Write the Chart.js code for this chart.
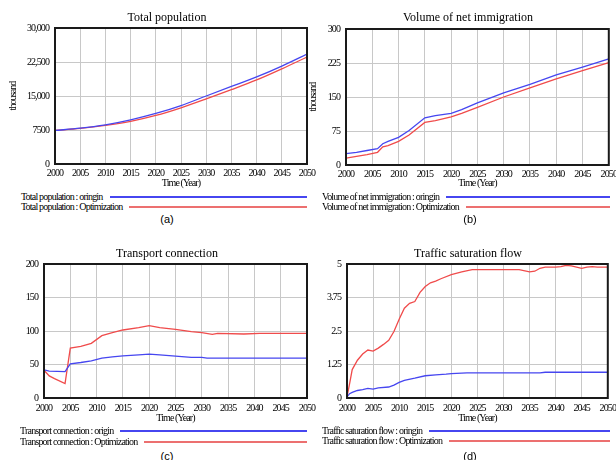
<!DOCTYPE html>
<html>
<head>
<meta charset="utf-8">
<script src="https://cdn.jsdelivr.net/npm/chart.js@4.4.1/dist/chart.umd.min.js"></script>
<style>
body { margin:0; width:616px; height:460px; overflow:hidden; position:relative; background:#fff; font-family:'Liberation Serif', serif; color:#000; }
canvas { position:absolute; }
.title { position:absolute; font-size:12px; white-space:nowrap; transform:translate(-50%,-50%); }
.legend { position:absolute; display:flex; align-items:center; font-size:10px; letter-spacing:-0.8px; white-space:nowrap; height:10px; line-height:10px; }
.legend .line { flex:1; margin-left:7px; height:1.5px; }
.caption { position:absolute; font-family:'Liberation Sans', sans-serif; font-size:11px; transform:translate(-50%,-50%); }
</style>
</head>
<body>
<canvas id="chartA" width="320" height="190" style="left:0;top:0"></canvas>
<canvas id="chartB" width="320" height="190" style="left:300px;top:0"></canvas>
<canvas id="chartC" width="320" height="196" style="left:0;top:230px"></canvas>
<canvas id="chartD" width="320" height="196" style="left:300px;top:230px"></canvas>

<script>
// asse x comune
const yearTicks = [2000, 2005, 2010, 2015, 2020, 2025, 2030, 2035, 2040, 2045, 2050];
const yearLabels = ['2000', '2005', '2010', '2015', '2020', '2025', '2030', '2035', '2040', '2045', '2050'];

// (a) Total population
const popYears = [2000, 2005, 2010, 2015, 2020, 2025, 2030, 2035, 2040, 2045, 2050];
const popOrigin = [7400, 7900, 8650, 9750, 11150, 12900, 15000, 17100, 19200, 21600, 24250];
const popOptim = [7400, 7850, 8500, 9400, 10700, 12400, 14350, 16400, 18550, 21000, 23600];
const popTicks = [0, 7500, 15000, 22500, 30000];
const popTickLabels = ['0', '7500', '15,000', '22,500', '30,000'];

// (b) Volume of net immigration
const immYears = [2000, 2002, 2004, 2006, 2007, 2008, 2010, 2012, 2015, 2017, 2020, 2022, 2025, 2030, 2035, 2040, 2045, 2050];
const immOrigin = [25, 28, 32, 36, 47, 52, 61, 76, 104, 109, 114, 122, 137, 159, 178, 199, 216, 234];
const immOptim = [15, 19, 23, 28, 40, 43, 52, 66, 94, 98, 106, 114, 127, 150, 170, 190, 208, 226];
const immTicks = [0, 75, 150, 225, 300];
const immTickLabels = ['0', '75', '150', '225', '300'];

// (c) Transport connection
const trOrgYears = [2000, 2001, 2004, 2005, 2007, 2009, 2011, 2013, 2015, 2018, 2020, 2022, 2025, 2028, 2030, 2031, 2035, 2040, 2045, 2050];
const trOrigin = [42, 40, 39.5, 51, 53, 55.5, 59.5, 61.5, 63, 64.5, 65.5, 64.5, 62.5, 60.5, 60.5, 59.5, 59.5, 59.5, 59.5, 59.5];
const trOptYears = [2000, 2001, 2002, 2004, 2005, 2007, 2009, 2011, 2013, 2015, 2018, 2020, 2022, 2025, 2028, 2030, 2032, 2033, 2038, 2041, 2050];
const trOptim = [41.5, 33, 29, 21.5, 74.5, 77, 81.5, 93, 97.5, 101.5, 105, 108, 105, 102.5, 99, 97.5, 95, 96.5, 95.5, 96.5, 96.5];
const trTicks = [0, 50, 100, 150, 200];
const trTickLabels = ['0', '50', '100', '150', '200'];

// (d) Traffic saturation flow
const tfOrgYears = [2000, 2000.5, 2001, 2002, 2003, 2004, 2005, 2006, 2008, 2009, 2010, 2011, 2013, 2015, 2017, 2019, 2020, 2023, 2037, 2038, 2050];
const tfOrigin = [0.04, 0.16, 0.21, 0.28, 0.31, 0.36, 0.33, 0.38, 0.41, 0.48, 0.58, 0.66, 0.74, 0.83, 0.86, 0.89, 0.91, 0.94, 0.94, 0.96, 0.96];
const tfOptYears = [2000, 2000.5, 2001, 2002, 2003, 2004, 2005, 2006, 2007, 2008, 2009, 2010, 2011, 2012, 2013, 2014, 2015, 2016, 2017, 2018, 2020, 2022, 2024, 2033, 2035, 2036, 2037, 2038, 2040, 2041, 2042, 2043, 2045, 2046, 2047, 2048, 2050];
const tfOptim = [0.04, 0.54, 1.06, 1.41, 1.64, 1.79, 1.75, 1.86, 2.0, 2.15, 2.48, 2.94, 3.35, 3.53, 3.6, 3.94, 4.16, 4.3, 4.36, 4.45, 4.6, 4.71, 4.79, 4.79, 4.71, 4.73, 4.84, 4.88, 4.88, 4.9, 4.95, 4.93, 4.84, 4.88, 4.9, 4.88, 4.88];
const tfTicks = [0, 1.25, 2.5, 3.75, 5];
const tfTickLabels = ['0', '1.25', '2.5', '3.75', '5'];

const blue = '#4646f0';
const red = '#f04b4b';
const serif = "'Liberation Serif', serif";
const tickFont = { family: serif, size: 10 };
const axisFont = { family: serif, size: 10 };

// cornice nera attorno all'area del grafico
const frame = {
    id: 'frame',
    afterDraw(chart) {
        const a = chart.chartArea;
        const ctx = chart.ctx;
        ctx.save();
        ctx.strokeStyle = '#1a1a1a';
        ctx.lineWidth = 2;
        ctx.strokeRect(a.left, a.top, a.right - a.left, a.bottom - a.top);
        ctx.restore();
    }
};

// testo degli assi un po' stretto come nell'originale
const tight = {
    id: 'tight',
    beforeLayout(chart) { chart.ctx.letterSpacing = '-0.9px'; },
    beforeDraw(chart) { chart.ctx.letterSpacing = '-0.9px'; }
};

function points(xs, ys) {
    return xs.map((x, i) => ({ x: x, y: ys[i] }));
}

function makePanel(id, p) {
    const yScale = {
        min: p.yTicks[0],
        max: p.yTicks[p.yTicks.length - 1],
        afterBuildTicks: s => { s.ticks = p.yTicks.map(v => ({ value: v })); },
        afterFit: s => { s.width = p.yWidth; },
        ticks: { padding: 6, font: tickFont, color: '#000', callback: (v, i) => p.yLabels[i] },
        grid: { color: '#c8c8c8', drawTicks: false },
        border: { display: false }
    };
    if (p.yTitle) {
        yScale.title = { display: true, text: p.yTitle, font: axisFont, color: '#000', padding: { top: 7, bottom: 0 } };
    }
    return new Chart(document.getElementById(id), {
        type: 'line',
        data: {
            datasets: [
                { label: p.names[0], data: p.origin, borderColor: blue },
                { label: p.names[1], data: p.optim, borderColor: red }
            ]
        },
        options: {
            responsive: false,
            animation: false,
            layout: { padding: { left: 0, right: p.padRight, top: p.padTop, bottom: 0 } },
            plugins: { legend: { display: false }, tooltip: { enabled: false } },
            elements: {
                point: { radius: 0 },
                line: { borderWidth: 1.3, tension: p.smooth ? 0.4 : 0, cubicInterpolationMode: p.smooth ? 'monotone' : 'default' }
            },
            scales: {
                x: {
                    type: 'linear',
                    min: 2000,
                    max: 2050,
                    afterBuildTicks: s => { s.ticks = yearTicks.map(v => ({ value: v })); },
                    afterFit: s => { s.height = p.xHeight; },
                    ticks: { padding: p.xTickPad, font: tickFont, color: '#000', maxRotation: 0, autoSkip: false, callback: (v, i) => yearLabels[i] },
                    grid: { color: '#c8c8c8', drawTicks: false },
                    border: { display: false },
                    title: { display: true, text: 'Time (Year)', font: axisFont, color: '#000', padding: { top: 0, bottom: p.xTitlePad } }
                },
                y: yScale
            }
        },
        plugins: [frame, tight]
    });
}

const panels = [
    {
        id: 'chartA', title: 'Total population', cx: 167, cy: 17, caption: '(a)', capY: 219,
        names: ['Total population : oringin', 'Total population : Optimization'],
        origin: points(popYears, popOrigin), optim: points(popYears, popOptim), smooth: true,
        yTicks: popTicks, yLabels: popTickLabels, yTitle: 'thousand',
        yWidth: 55, padRight: 13, padTop: 28, xHeight: 26, xTickPad: 3, xTitlePad: 1,
        legLeft: 21, legRight: 307, legRows: [197, 207]
    },
    {
        id: 'chartB', title: 'Volume of net immigration', cx: 468, cy: 17, caption: '(b)', capY: 219,
        names: ['Volume of net immigration : oringin', 'Volume of net immigration : Optimization'],
        origin: points(immYears, immOrigin), optim: points(immYears, immOptim),
        yTicks: immTicks, yLabels: immTickLabels, yTitle: 'thousand',
        yWidth: 46, padRight: 10, padTop: 29, xHeight: 25, xTickPad: 3, xTitlePad: 1,
        legLeft: 322, legRight: 610, legRows: [197, 207]
    },
    {
        id: 'chartC', title: 'Transport connection', cx: 167, cy: 253, caption: '(c)', capY: 456,
        names: ['Transport connection : origin', 'Transport connection : Optimization'],
        origin: points(trOrgYears, trOrigin), optim: points(trOptYears, trOptim),
        yTicks: trTicks, yLabels: trTickLabels,
        yWidth: 44, padRight: 13, padTop: 34, xHeight: 28, xTickPad: 4, xTitlePad: 2,
        legLeft: 20, legRight: 307, legRows: [431, 442]
    },
    {
        id: 'chartD', title: 'Traffic saturation flow', cx: 468, cy: 253, caption: '(d)', capY: 456,
        names: ['Traffic saturation flow : oringin', 'Traffic saturation flow : Optimization'],
        origin: points(tfOrgYears, tfOrigin), optim: points(tfOptYears, tfOptim),
        yTicks: tfTicks, yLabels: tfTickLabels,
        yWidth: 47, padRight: 10, padTop: 34, xHeight: 28, xTickPad: 4, xTitlePad: 2,
        legLeft: 322, legRight: 610, legRows: [431, 441]
    }
];

function addDiv(cls, text, style) {
    const d = document.createElement('div');
    d.className = cls;
    if (text) d.textContent = text;
    Object.assign(d.style, style);
    document.body.appendChild(d);
    return d;
}

panels.forEach(p => {
    makePanel(p.id, p);
    addDiv('title', p.title, { left: p.cx + 'px', top: p.cy + 'px' });
    addDiv('caption', p.caption, { left: (p.cx + (p.cx > 300 ? 2 : 0)) + 'px', top: p.capY + 'px' });
    [blue, '#ec7070'].forEach((c, i) => {
        const row = addDiv('legend', '', {
            left: p.legLeft + 'px',
            top: (p.legRows[i] - 5) + 'px',
            width: (p.legRight - p.legLeft) + 'px'
        });
        const t = document.createElement('span');
        t.textContent = p.names[i];
        const l = document.createElement('span');
        l.className = 'line';
        l.style.backgroundColor = c;
        row.appendChild(t);
        row.appendChild(l);
    });
});
</script>
</body>
</html>
